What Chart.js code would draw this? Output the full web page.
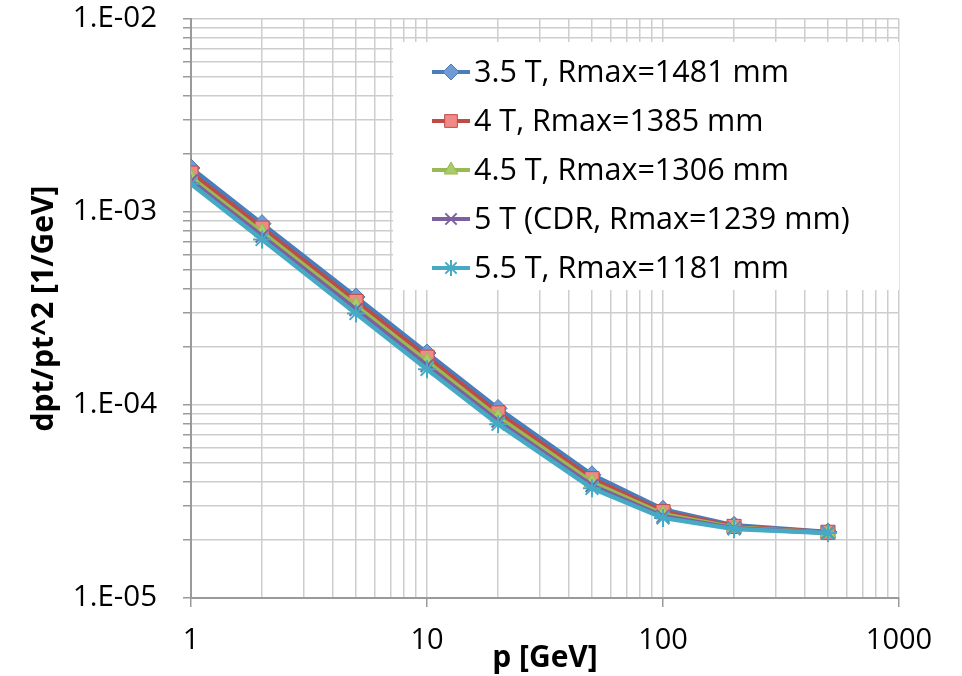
<!DOCTYPE html>
<html>
<head>
<meta charset="utf-8">
<script src="https://cdn.jsdelivr.net/npm/chart.js@4.4.1/dist/chart.umd.min.js"></script>
<style>
  html, body { margin: 0; padding: 0; background: #fff; }
  #wrap { width: 962px; height: 676px; }
</style>
</head>
<body>
<div id="wrap"><canvas id="chart"></canvas></div>
<script>
// p [GeV] where the resolution was evaluated
const momenta = [1, 2, 5, 10, 20, 50, 100, 200, 500];

const seriesNames = [
  '3.5 T, Rmax=1481 mm',
  '4 T, Rmax=1385 mm',
  '4.5 T, Rmax=1306 mm',
  '5 T (CDR, Rmax=1239 mm)',
  '5.5 T, Rmax=1181 mm'
];

// dpt/pt^2 [1/GeV]
const res35T = [1.69e-3, 8.7e-4, 3.63e-4, 1.86e-4, 9.6e-5, 4.35e-5, 2.88e-5, 2.38e-5, 2.20e-5];
const res40T = [1.59e-3, 8.25e-4, 3.44e-4, 1.77e-4, 9.1e-5, 4.15e-5, 2.80e-5, 2.35e-5, 2.19e-5];
const res45T = [1.51e-3, 7.85e-4, 3.27e-4, 1.68e-4, 8.65e-5, 3.98e-5, 2.72e-5, 2.32e-5, 2.18e-5];
const res50T = [1.45e-3, 7.5e-4, 3.12e-4, 1.60e-4, 8.25e-5, 3.82e-5, 2.65e-5, 2.30e-5, 2.18e-5];
const res55T = [1.40e-3, 7.2e-4, 2.98e-4, 1.53e-4, 7.95e-5, 3.70e-5, 2.60e-5, 2.28e-5, 2.17e-5];

const xTickLabels = ['1', '10', '100', '1000'];
const yTickLabels = ['1.E-05', '1.E-04', '1.E-03', '1.E-02'];

// --- estilo ---
const FONT = '"Open Sans", "DejaVu Sans", sans-serif';
const lineColors = ['#4a7ebb', '#be4b48', '#98b954', '#7d60a0', '#46aac5'];
const markerFill = ['#6f9ad6', '#f08a86', '#a9cc66', '#7d60a0', '#46aac5'];
const markerStyle = ['rectRot', 'rect', 'triangle', 'crossRot', 'star'];
const markerRadius = [9, 10, 9, 9, 9];
const gridColor = '#cdcdcd';
const axisColor = '#9a9a9a';

// grade log: 1..9 x 10^k
const logTicks = (loExp, hiExp) => {
  const out = [];
  for (let e = loExp; e < hiExp; e++) {
    for (let m = 1; m <= 9; m++) out.push({ value: m * Math.pow(10, e) });
  }
  out.push({ value: Math.pow(10, hiExp) });
  return out;
};
const isMajor = (v) => {
  const l = Math.log10(v);
  return Math.abs(l - Math.round(l)) < 1e-9;
};

const allSeries = [res35T, res40T, res45T, res50T, res55T];
const datasets = allSeries.map((vals, i) => ({
  label: seriesNames[i],
  data: momenta.map((p, j) => ({ x: p, y: vals[j] })),
  borderColor: lineColors[i],
  backgroundColor: markerFill[i],
  borderWidth: 4.5,
  pointStyle: markerStyle[i],
  pointRadius: markerRadius[i],
  pointBackgroundColor: markerFill[i],
  pointBorderColor: lineColors[i],
  pointBorderWidth: (i >= 3) ? 2 : 1,
  order: allSeries.length - i,
  tension: 0
}));

// legenda desenhada à mão (caixa branca sobre a grade)
const legendBox = { left: 393, top: 42, right: 899, bottom: 290, firstY: 72, step: 49, lineX0: 432, lineX1: 470, textX: 474 };
const legendPlugin = {
  id: 'boxLegend',
  afterDraw(chart) {
    const ctx = chart.ctx;
    ctx.save();
    ctx.fillStyle = '#fff';
    ctx.fillRect(legendBox.left, legendBox.top, legendBox.right - legendBox.left, legendBox.bottom - legendBox.top);
    seriesNames.forEach((name, i) => {
      const y = legendBox.firstY + i * legendBox.step;
      ctx.strokeStyle = lineColors[i];
      ctx.lineWidth = 4;
      ctx.beginPath();
      ctx.moveTo(legendBox.lineX0, y);
      ctx.lineTo(legendBox.lineX1, y);
      ctx.stroke();
      ctx.fillStyle = markerFill[i];
      ctx.strokeStyle = lineColors[i];
      ctx.lineWidth = (i >= 3) ? 2 : 1;
      Chart.helpers.drawPoint(ctx, {
        pointStyle: markerStyle[i],
        radius: markerRadius[i] - 1,
        rotation: 0,
        borderWidth: (i >= 3) ? 2 : 1
      }, (legendBox.lineX0 + legendBox.lineX1) / 2, y);
      ctx.fillStyle = '#000';
      ctx.font = '30.5px ' + FONT;
      ctx.textAlign = 'left';
      ctx.textBaseline = 'middle';
      ctx.fillText(name, legendBox.textX, y + 1);
    });
    ctx.restore();
  }
};

const bg = {
  id: 'bg',
  beforeDraw(chart) {
    const ctx = chart.ctx;
    ctx.save();
    ctx.fillStyle = '#fff';
    ctx.fillRect(0, 0, chart.width, chart.height);
    ctx.restore();
  }
};

const ctx = document.getElementById('chart').getContext('2d');
new Chart(ctx, {
  type: 'line',
  data: { datasets },
  plugins: [bg, legendPlugin],
  options: {
    responsive: true,
    maintainAspectRatio: false,
    animation: false,
    layout: { padding: { left: 0, right: 63, top: 19, bottom: 0 } },
    plugins: { legend: { display: false }, tooltip: { enabled: false } },
    scales: {
      x: {
        type: 'logarithmic',
        min: 1,
        max: 1000,
        afterBuildTicks: (s) => { s.ticks = logTicks(0, 3); },
        afterFit: (s) => { s.height = 78; s.paddingLeft = 0; s.paddingRight = 0; },
        border: { color: axisColor, width: 2 },
        grid: {
          color: gridColor,
          lineWidth: 1.5,
          tickLength: 9,
          tickColor: (c) => (c.tick && isMajor(c.tick.value)) ? axisColor : 'rgba(0,0,0,0)'
        },
        ticks: {
          autoSkip: false,
          maxRotation: 0,
          padding: 16,
          color: '#000',
          font: { family: FONT, size: 29 },
          callback: (v) => isMajor(v) ? xTickLabels[Math.round(Math.log10(v))] : ''
        },
        title: {
          display: true,
          text: 'p [GeV]',
          color: '#000',
          font: { family: FONT, size: 30, weight: 'bold' },
          padding: { top: 0, bottom: 0 }
        }
      },
      y: {
        type: 'logarithmic',
        min: 1e-5,
        max: 1e-2,
        afterBuildTicks: (s) => { s.ticks = logTicks(-5, -2); },
        afterFit: (s) => { s.width = 191; s.paddingTop = 0; s.paddingBottom = 0; },
        border: { color: axisColor, width: 2 },
        grid: {
          color: gridColor,
          lineWidth: 1.5,
          tickLength: 8,
          tickColor: axisColor
        },
        ticks: {
          autoSkip: false,
          padding: 26,
          color: '#000',
          font: { family: FONT, size: 29.5 },
          callback: (v) => isMajor(v) ? yTickLabels[Math.round(Math.log10(v)) + 5] : ''
        },
        title: {
          display: true,
          text: 'dpt/pt^2 [1/GeV]',
          color: '#000',
          font: { family: FONT, size: 30, weight: 'bold' },
          padding: { top: 26, bottom: 0 }
        }
      }
    }
  }
});
</script>
</body>
</html>
